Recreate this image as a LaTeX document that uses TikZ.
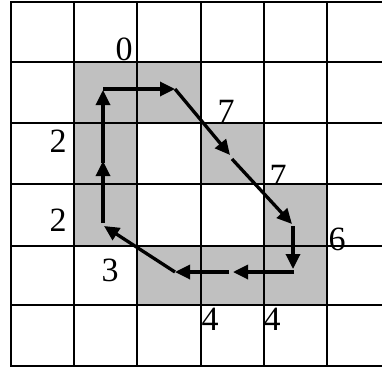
\documentclass[tikz,border=0pt]{standalone}
\usepackage{fontspec}
\setmainfont{Liberation Serif}
\usetikzlibrary{arrows.meta}
\definecolor{cellgray}{RGB}{192,192,192}
\tikzset{
  gridline/.style={line width=2.4pt,line cap=rect},
  cell/.style={fill=cellgray},
  lbl/.style={inner sep=0pt,font=\fontsize{34}{34}\selectfont},
  arr/.style={line width=3.3pt,-{Triangle[length=15pt,width=14pt]}}
}
\begin{document}
\begin{tikzpicture}[x=1pt,y=-1pt]
\useasboundingbox (0,0) rectangle (382,367);
% labels
\node[lbl] (l0) at (124,49) {0};
\node[lbl] (l7a) at (226,111) {7};
\node[lbl] (l7b) at (278,176) {7};
\node[lbl] (l6) at (337,239) {6};
\node[lbl] (l2a) at (58,141) {2};
\node[lbl] (l2b) at (58,220) {2};
\node[lbl] (l3) at (110,270) {3};
\node[lbl] (l4a) at (210,319) {4};
\node[lbl] (l4b) at (272,319) {4};
% gray cells
\fill[cell] (74,62) rectangle (201,123);
\fill[cell] (74,123) rectangle (137,246);
\fill[cell] (201,123) rectangle (264,184);
\fill[cell] (264,184) rectangle (327,246);
\fill[cell] (137,246) rectangle (327,305);
% grid
\foreach \x in {11,74,137,201,264,327} \draw[gridline] (\x,2) -- (\x,366);
\foreach \y in {2,62,123,184,246,305,366} \draw[gridline] (11,\y) -- (390,\y);
% path points
\coordinate (p0) at (103,89);
\coordinate (p1) at (175,89);
\coordinate (p2) at (230,155);
\coordinate (p2b) at (232,159);
\coordinate (p3) at (292,224);
\coordinate (p3b) at (293,226);
\coordinate (p4) at (293,269);
\coordinate (p4b) at (294,272);
\coordinate (p5) at (233,272);
\coordinate (p5b) at (229,272);
\coordinate (p6) at (175,272);
\coordinate (p7) at (104,226);
\coordinate (p7b) at (103,223);
\coordinate (p8) at (103,161);
\coordinate (p8b) at (103,163);
\coordinate (p9) at (103,90);
% arrows
\draw[arr] (p0) -- (p1);
\draw[arr] (p1) -- (p2);
\draw[arr] (p2b) -- (p3);
\draw[arr] (p3b) -- (p4);
\draw[arr] (p4b) -- (p5);
\draw[arr] (p5b) -- (p6);
\draw[arr] (p6) -- (p7);
\draw[arr] (p7b) -- (p8);
\draw[arr] (p8b) -- (p9);
\end{tikzpicture}
\end{document}
